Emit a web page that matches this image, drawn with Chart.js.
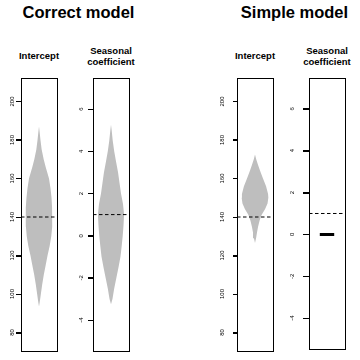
<!DOCTYPE html>
<html><head><meta charset="utf-8">
<script src="https://cdn.jsdelivr.net/npm/chart.js@4.4.1/dist/chart.umd.min.js"></script>
<style>
html,body{margin:0;padding:0;background:#fff;}
body{position:relative;width:360px;height:360px;overflow:hidden;font-family:"Liberation Sans",Arial,Helvetica,sans-serif;}
.title{position:absolute;font-weight:bold;font-size:16.5px;line-height:18px;text-align:center;white-space:nowrap;color:#000;}
.sub{position:absolute;font-weight:bold;font-size:9.5px;line-height:11px;text-align:center;white-space:nowrap;color:#000;}
canvas{position:absolute;top:0;}
</style></head><body>
<div class="title" style="left:0;width:157px;top:3px">Correct model</div>
<div class="title" style="left:215px;width:159px;top:3px">Simple model</div>
<div class="sub" style="left:0;width:78px;top:49.7px">Intercept</div>
<div class="sub" style="left:71px;width:80px;top:44.7px">Seasonal<br>coefficient</div>
<div class="sub" style="left:215px;width:80px;top:49.7px">Intercept</div>
<div class="sub" style="left:287px;width:80px;top:44.7px">Seasonal<br>coefficient</div>
<canvas id="c1"></canvas>
<canvas id="c2"></canvas>
<canvas id="c3"></canvas>
<canvas id="c4"></canvas>
<script>
// ---- data ----
const interceptTicks = [80, 100, 120, 140, 160, 180, 200];
const seasonalTicks = [-4, -2, 0, 2, 4, 6];
const interceptRange = [70.4, 212.2];
const seasonalRange = [-5.46, 7.47];
const trueIntercept = 140;
const trueSeasonal = 1;

// Correct model: intercept posterior (value, relative density)
const correctInterceptValues  = [187, 184, 180, 175, 170, 166, 160, 155, 150, 145, 140, 135, 130, 125, 120, 115, 110, 105, 100, 96, 93.5];
const correctInterceptDensity = [0, 0.05, 0.11, 0.2, 0.35, 0.5, 0.75, 0.86, 0.94, 0.98, 1.0, 0.98, 0.92, 0.8, 0.64, 0.5, 0.36, 0.24, 0.14, 0.06, 0];

// Correct model: seasonal coefficient posterior
const correctSeasonalValues  = [5.26, 5.0, 4.5, 4.0, 3.5, 3.0, 2.5, 2.0, 1.5, 1.0, 0.5, 0.0, -0.5, -1.0, -1.5, -2.0, -2.5, -3.0, -3.25];
const correctSeasonalDensity = [0, 0.05, 0.13, 0.24, 0.38, 0.53, 0.64, 0.75, 0.9, 0.98, 0.94, 0.88, 0.8, 0.71, 0.56, 0.4, 0.24, 0.11, 0];

// Simple model: intercept posterior
const simpleInterceptValues  = [172.5, 170, 167, 164, 160, 156, 152, 150, 147, 144, 141, 138, 135, 132, 129, 126.5];
const simpleInterceptDensity = [0, 0.09, 0.23, 0.38, 0.6, 0.83, 0.98, 1.0, 0.94, 0.75, 0.49, 0.34, 0.23, 0.15, 0.08, 0];

// Simple model: seasonal coefficient fixed at 0
const simpleSeasonalValues  = [0];
const simpleSeasonalDensity = [0.54];

// ---- drawing ----
const FONT = '"Liberation Sans", Arial, sans-serif';
const TICK_FONT_SIZE = 6;
const X_HALF = 1.35;

function outline(vals, dens) {
  const pts = [];
  if (vals.length === 1) {
    pts.push({x: -dens[0], y: vals[0]}, {x: dens[0], y: vals[0]});
    return pts;
  }
  for (let i = 0; i < vals.length; i++) pts.push({x: dens[i], y: vals[i]});
  for (let i = vals.length - 1; i >= 0; i--) pts.push({x: -dens[i], y: vals[i]});
  return pts;
}

function boxPlugin(tl, tickVals) {
  return {
    id: 'box',
    afterDraw(chart) {
      const ctx = chart.ctx;
      const a = chart.chartArea;
      const ys = chart.scales.y;
      const L = Math.round(a.left);
      ctx.save();
      ctx.setLineDash([]);
      ctx.strokeStyle = '#000';
      ctx.lineWidth = 1;
      ctx.strokeRect(L + 0.5, Math.round(a.top) + 0.5,
                     Math.round(a.right - a.left), Math.round(a.bottom - a.top));
      ctx.fillStyle = '#000';
      for (let i = 0; i < tickVals.length; i++) {
        const py = Math.round(ys.getPixelForValue(tickVals[i]));
        ctx.fillRect(L - tl, py, tl + 1, 1);
      }
      ctx.restore();
    }
  };
}

const mctx = document.createElement('canvas').getContext('2d');
function widest(labels) {
  mctx.font = TICK_FONT_SIZE + 'px ' + FONT;
  return Math.max(...labels.map(l => mctx.measureText(String(l)).width));
}

function makePanel(id, p) {
  const AXW = 30, PADR = 4;
  const cv = document.getElementById(id);
  const w = (p.R - p.L) + AXW + PADR;
  cv.width = w; cv.height = 360;
  cv.style.left = (p.L - AXW) + 'px';
  cv.style.width = w + 'px'; cv.style.height = '360px';
  const wd = widest(p.ticks);
  const pad = p.labelOffset - p.tl - wd / 2;
  const datasets = [
    {
      data: [{x: -X_HALF, y: p.truth}, {x: X_HALF, y: p.truth}],
      borderColor: '#000', borderWidth: 1, borderDash: [3.5, 2.5],
      pointRadius: 0, fill: false, tension: 0
    }
  ];
  if (p.vals.length === 1) {
    datasets.push({
      data: outline(p.vals, p.dens),
      borderColor: '#000', borderWidth: 3, borderCapStyle: 'butt',
      pointRadius: 0, fill: false, tension: 0
    });
  } else {
    datasets.push({
      data: outline(p.vals, p.dens),
      borderColor: 'rgba(0,0,0,0)', borderWidth: 0,
      backgroundColor: '#bebebe',
      pointRadius: 0, fill: 'shape', tension: 0
    });
  }
  new Chart(cv, {
    type: 'line',
    data: {datasets},
    options: {
      responsive: false, animation: false, devicePixelRatio: 1,
      layout: {padding: {top: 78, bottom: 9, left: 0, right: PADR}},
      plugins: {legend: {display: false}, tooltip: {enabled: false}, title: {display: false}},
      scales: {
        x: {type: 'linear', display: false, min: -X_HALF, max: X_HALF},
        y: {
          type: 'linear', min: p.range[0], max: p.range[1],
          afterBuildTicks(s) { s.ticks = p.ticks.map(v => ({value: v})); },
          afterFit(s) { s.width = AXW; },
          border: {display: false},
          grid: {display: true, drawOnChartArea: false, drawTicks: true, tickLength: p.tl, lineWidth: 1, color: '#000', tickColor: '#000'},
          ticks: {
            autoSkip: false, minRotation: 90, maxRotation: 90, crossAlign: 'center',
            padding: pad, color: '#000',
            font: {family: FONT, size: TICK_FONT_SIZE},
            callback: (v) => String(v)
          }
        }
      }
    },
    plugins: [boxPlugin(p.tl, p.ticks)]
  });
}

makePanel('c1', {L: 21, R: 57, ticks: interceptTicks, range: interceptRange, truth: trueIntercept,
  vals: correctInterceptValues, dens: correctInterceptDensity, labelOffset: 9, tl: 5});
makePanel('c2', {L: 93, R: 129, ticks: seasonalTicks, range: seasonalRange, truth: trueSeasonal,
  vals: correctSeasonalValues, dens: correctSeasonalDensity, labelOffset: 12, tl: 5});
makePanel('c3', {L: 237, R: 273, ticks: interceptTicks, range: interceptRange, truth: trueIntercept,
  vals: simpleInterceptValues, dens: simpleInterceptDensity, labelOffset: 14.3, tl: 4});
makePanel('c4', {L: 309, R: 345, ticks: seasonalTicks, range: seasonalRange, truth: trueSeasonal,
  vals: simpleSeasonalValues, dens: simpleSeasonalDensity, labelOffset: 16.3, tl: 6});
</script>
</body></html>
